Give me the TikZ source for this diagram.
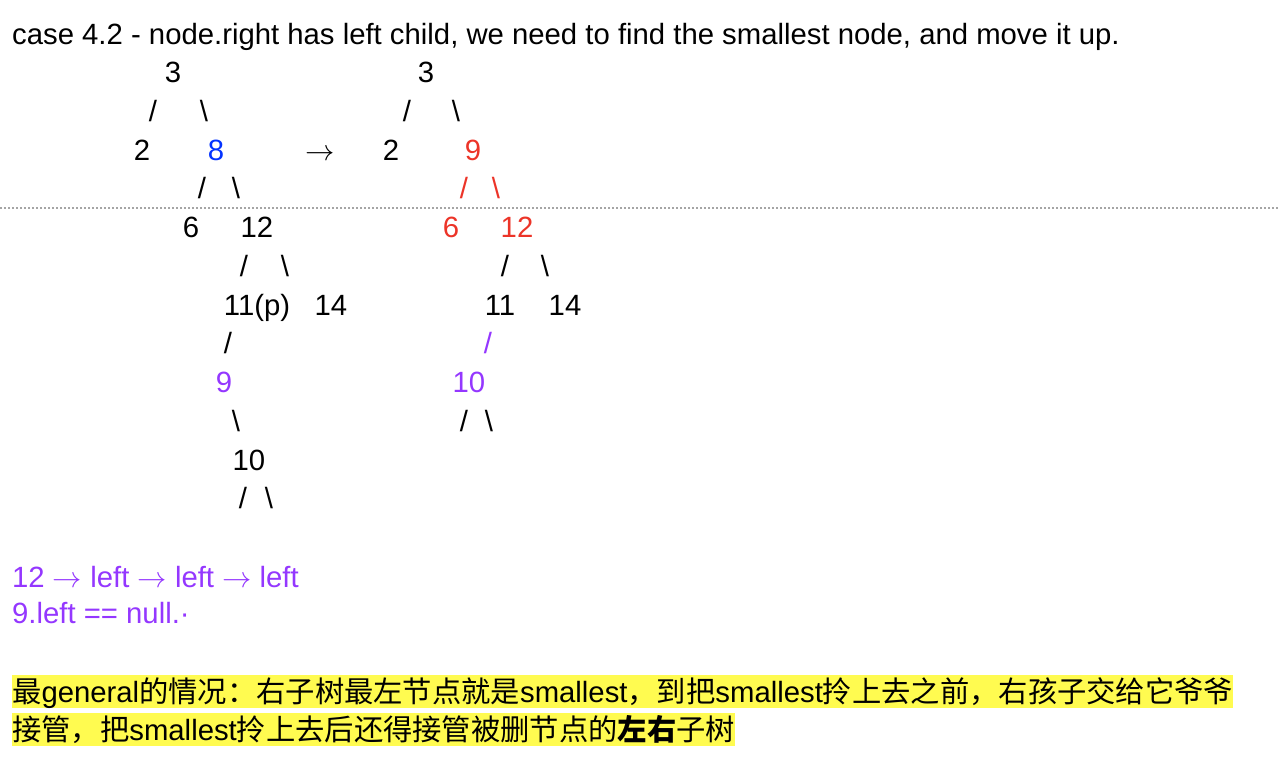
\documentclass[tikz,border=0pt]{standalone}
\usepackage{fix-cm}
\usepackage{fontspec}
\setmainfont{Liberation Sans}
\newfontfamily\cjk{Noto Sans CJK SC}
\definecolor{TreeBlue}{RGB}{4,51,255}
\definecolor{TreeRed}{RGB}{236,52,40}
\definecolor{TreePurple}{RGB}{148,55,255}
\definecolor{NoteYellow}{RGB}{255,251,80}
\definecolor{RuleGray}{RGB}{165,165,165}
\newcommand{\bigfont}{\fontsize{29.3}{35}\selectfont}
\newcommand{\zh}[1]{{\cjk #1}}
\newcommand{\bs}{\textbackslash}

\begin{document}
\begin{tikzpicture}[x=1pt,y=-1pt,
  key/.style={inner sep=0pt,anchor=base,font=\bigfont},
  textline/.style={inner sep=0pt,anchor=base west,font=\bigfont},
  noteline/.style={textline,fill=NoteYellow,text height=27pt,text depth=6pt}
]
\useasboundingbox (0,0) rectangle (1278,774);
\node[textline] (title) at (12,44) {case 4.2 - node.right has left child, we need to find the smallest node, and move it up.};
\draw[RuleGray,line width=1.5pt,dash pattern=on 2pt off 2pt] (0,208) -- (1278,208);

% before
\node[key] (a3) at (173,82) {3};
\node[key] (a3l) at (153,121) {/};
\node[key] (a3r) at (204,121) {\bs};
\node[key] (a2) at (142,160) {2};
\node[key,TreeBlue] (a8) at (216,160) {8};
\node[key] (a8l) at (202,198) {/};
\node[key] (a8r) at (236,198) {\bs};
\node[key] (a6) at (191,237) {6};
\node[key] (a12) at (257,237) {12};
\node[key] (a12l) at (244,276) {/};
\node[key] (a12r) at (285,276) {\bs};
\node[key] (a11) at (257,315) {11(p)};
\node[key] (a14) at (331,315) {14};
\node[key] (a11l) at (228,353) {/};
\node[key,TreePurple] (a9) at (224,392) {9};
\node[key] (a9r) at (236,431) {\bs};
\node[key] (a10) at (249,470) {10};
\node[key] (a10l) at (243,508) {/};
\node[key] (a10r) at (269,508) {\bs};

\node[key] (turn) at (320,160) {$\rightarrow$};

% after
\node[key] (b3) at (426,82) {3};
\node[key] (b3l) at (407,121) {/};
\node[key] (b3r) at (456,121) {\bs};
\node[key] (b2) at (391,160) {2};
\node[key,TreeRed] (b9) at (473,160) {9};
\node[key,TreeRed] (b9l) at (464,198) {/};
\node[key,TreeRed] (b9r) at (496,198) {\bs};
\node[key,TreeRed] (b6) at (451,237) {6};
\node[key,TreeRed] (b12) at (517,237) {12};
\node[key] (b12l) at (505,276) {/};
\node[key] (b12r) at (545,276) {\bs};
\node[key] (b11) at (500,315) {11};
\node[key] (b14) at (565,315) {14};
\node[key,TreePurple] (b11l) at (488,353) {/};
\node[key,TreePurple] (b10) at (469,392) {10};
\node[key] (b10l) at (464,431) {/};
\node[key] (b10r) at (489,431) {\bs};

\node[textline,TreePurple] (walk) at (12,587) {12 $\rightarrow$ left $\rightarrow$ left $\rightarrow$ left};
\node[textline,TreePurple] (stop) at (12,623) {9.left == null.·};

\node[noteline] (note1) at (12,702) {\zh{最}general\zh{的情况：右子树最左节点就是}smallest\zh{，到把}smallest\zh{拎上去之前，右孩子交给它爷爷}};
\node[noteline] (note2) at (12,740) {\zh{接管，把}smallest\zh{拎上去后还得接管被删节点的}{\cjk\bfseries 左右}\zh{子树}};
\end{tikzpicture}
\end{document}
